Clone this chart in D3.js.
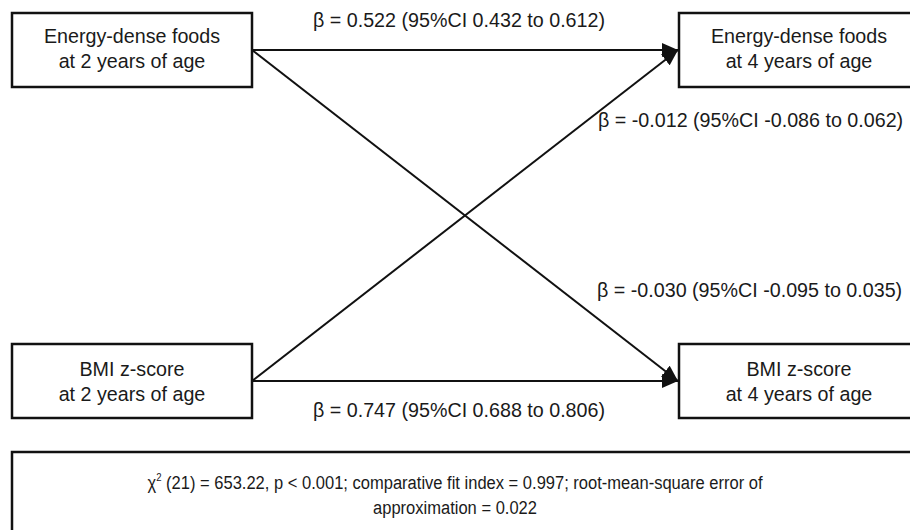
<!DOCTYPE html>
<html>
<head>
<meta charset="utf-8">
<script src="https://cdn.jsdelivr.net/npm/d3@7"></script>
<style>
  html, body { margin: 0; padding: 0; background: #fff; }
  svg { display: block; }
  text { font-family: "Liberation Sans", Arial, Helvetica, sans-serif; fill: #1a1a1a; }
</style>
</head>
<body>
<svg id="chart" width="910" height="530"></svg>
<script>
// Path model: measured variables at age 2 and age 4
const nodeIds = ["food2", "food4", "bmi2", "bmi4"];
const nodeLines = [
  ["Energy-dense foods", "at 2 years of age"],
  ["Energy-dense foods", "at 4 years of age"],
  ["BMI z-score", "at 2 years of age"],
  ["BMI z-score", "at 4 years of age"]
];
const nodeColumns = ["age2", "age4", "age2", "age4"];
const nodeRows = ["food", "food", "bmi", "bmi"];

// Standardised path coefficients with 95% confidence intervals
const pathFrom = ["food2", "bmi2", "food2", "bmi2"];
const pathTo   = ["food4", "food4", "bmi4", "bmi4"];
const beta     = ["0.522", "-0.012", "-0.030", "0.747"];
const ciLow    = ["0.432", "-0.086", "-0.095", "0.688"];
const ciHigh   = ["0.612", "0.062", "0.035", "0.806"];

// Model fit statistics
const fitLine1 = "(21) = 653.22, p < 0.001; comparative fit index = 0.997; root-mean-square error of";
const fitLine2 = "approximation = 0.022";

const svg = d3.select("#chart");
const fontSize = 19.7;

// Column and row placement of the boxes
const boxW = 240, boxH = 74;
const colX = d3.scaleOrdinal().domain(["age2", "age4"]).range([12, 679]);
const rowY = d3.scaleOrdinal().domain(["food", "bmi"]).range([13, 344]);

const nodes = nodeIds.map((id, i) => ({
  id, lines: nodeLines[i],
  x: colX(nodeColumns[i]), y: rowY(nodeRows[i]),
  w: nodeColumns[i] === "age4" ? 260 : boxW, h: boxH
}));
const byId = Object.fromEntries(nodes.map(n => [n.id, n]));

// Arrow head
svg.append("defs").append("marker")
  .attr("id", "head")
  .attr("markerUnits", "userSpaceOnUse")
  .attr("viewBox", "0 0 16 14")
  .attr("markerWidth", 16).attr("markerHeight", 14)
  .attr("refX", 16).attr("refY", 7)
  .attr("orient", "auto")
  .append("path").attr("d", "M0,0 L16,7 L0,14 Z").attr("fill", "#111");

// Paths: leave from the right edge of the source, enter the left edge of the target
const paths = pathFrom.map((f, i) => {
  const s = byId[f], t = byId[pathTo[i]];
  return {
    x1: s.x + s.w, y1: s.y + s.h / 2,
    x2: t.x - 1, y2: t.y + t.h / 2,
    label: `\u03B2 = ${beta[i]} (95%CI ${ciLow[i]} to ${ciHigh[i]})`,
    i
  };
});

svg.append("g").selectAll("line").data(paths).join("line")
  .attr("x1", d => d.x1).attr("y1", d => d.y1)
  .attr("x2", d => d.x2).attr("y2", d => d.y2)
  .attr("stroke", "#111").attr("stroke-width", 2)
  .attr("marker-end", "url(#head)");

// Boxes
const g = svg.append("g").selectAll("g").data(nodes).join("g");
g.append("rect")
  .attr("x", d => d.x).attr("y", d => d.y)
  .attr("width", d => d.w).attr("height", d => d.h)
  .attr("fill", "#fff").attr("stroke", "#111").attr("stroke-width", 2.5);
g.append("text")
  .attr("text-anchor", "middle")
  .attr("font-size", fontSize)
  .selectAll("tspan").data(d => d.lines.map((l, k) => ({ l, k, d }))).join("tspan")
  .attr("x", o => o.d.x + boxW / 2)
  .attr("y", o => o.d.y + o.d.h / 2 + (o.d.y < 100 ? -7 : -5) + o.k * 25)
  .text(o => o.l);

// Coefficient labels
const labelPos = [
  { x: 459, y: 27, anchor: "middle" },
  { x: 598, y: 127, anchor: "start" },
  { x: 597, y: 297, anchor: "start" },
  { x: 459, y: 417, anchor: "middle" }
];
svg.append("g").selectAll("text").data(paths).join("text")
  .attr("x", d => labelPos[d.i].x).attr("y", d => labelPos[d.i].y)
  .attr("text-anchor", d => labelPos[d.i].anchor)
  .attr("font-size", fontSize)
  .text(d => d.label);

// Fit statistics box
svg.append("rect")
  .attr("x", 12).attr("y", 452).attr("width", 920).attr("height", 120)
  .attr("fill", "none").attr("stroke", "#111").attr("stroke-width", 2.5);

const fit = svg.append("g").attr("transform", "translate(455,0) scale(0.87,1)");
const t1 = fit.append("text").attr("x", 0).attr("y", 489)
  .attr("text-anchor", "middle").attr("font-size", 19);
t1.append("tspan").text("\u03C7");
t1.append("tspan").attr("dy", -8).attr("font-size", 11).text("2");
t1.append("tspan").attr("dy", 8).text(" " + fitLine1);
fit.append("text").attr("x", 0).attr("y", 514)
  .attr("text-anchor", "middle").attr("font-size", 19)
  .text(fitLine2);
</script>
</body>
</html>
